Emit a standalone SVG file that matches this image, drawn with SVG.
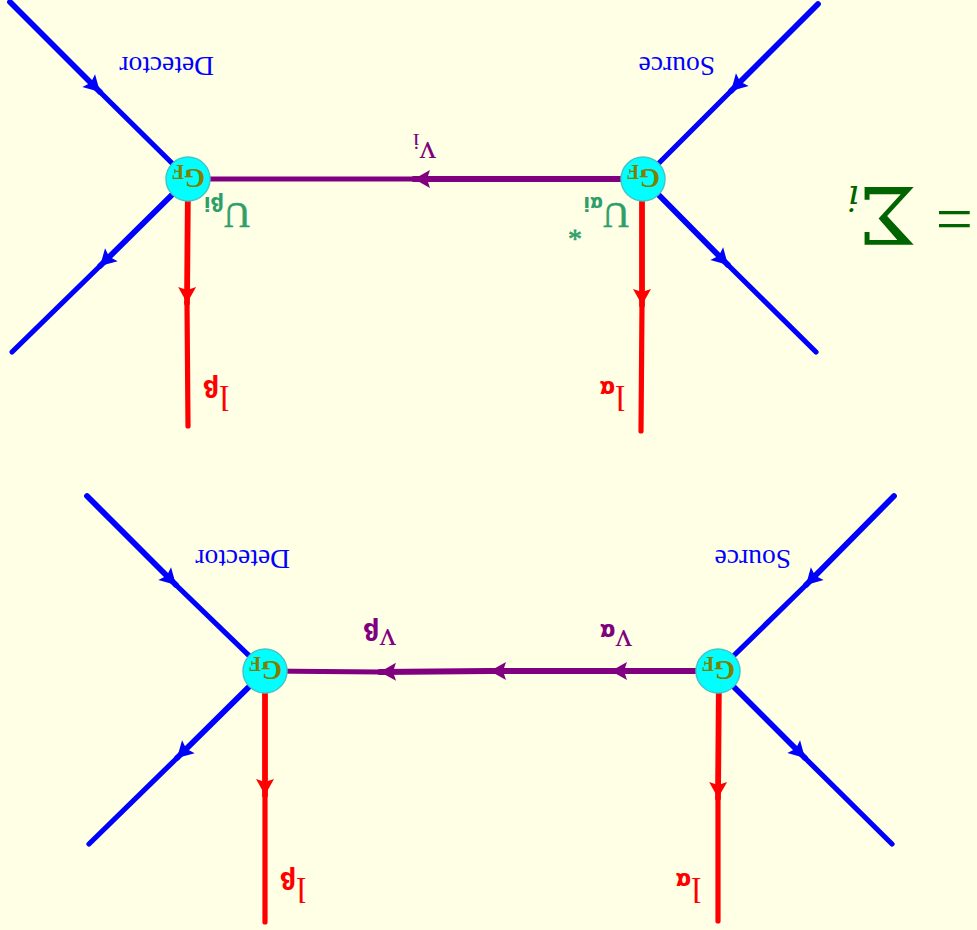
<svg xmlns="http://www.w3.org/2000/svg" width="977" height="930" viewBox="0 0 977 930">
<style>
text{font-family:"Liberation Serif","Times New Roman",serif}
.sub{font-family:"DejaVu Sans",sans-serif;font-weight:bold;font-size:23px}
.c{fill:none;stroke-linecap:round}
.t{stroke-width:5.8;marker-end:url(#a)}
.n{stroke-width:5.2}
.b{stroke:#0000ff}
.r{stroke:#ff0000}
.p{stroke:#800080}
.v{fill:#00ffff;stroke:#40c8c8;stroke-width:1.5}
.gf{fill:#808000;font-weight:bold;font-size:27px}
.gf tspan{font-size:20px}
.src{fill:#0000ff;font-size:27.5px}
.lr{fill:#ff0000;font-size:35px}
.lp{fill:#800080;font-size:33px}
.u{fill:#2e9e6a;font-size:36px;stroke:#2e9e6a;stroke-width:.6}
.u .sub{font-size:19px;stroke:none}
.s{fill:#006400}
</style>
<defs>
<marker id="a" markerUnits="userSpaceOnUse" markerWidth="20" markerHeight="20" refX="17" refY="10" orient="auto" overflow="visible">
<path d="M17 10L1 1L4 10L1 19Z" fill="context-stroke"/>
</marker>
</defs>
<rect width="977" height="930" fill="#ffffe6"/>
<g id="connectors">
<path class="c b t" d="M818 4L731 91"/><path class="c b n" d="M731 91L643 179"/>
<path class="c b t" d="M643 179L728 265"/><path class="c b n" d="M728 265L816 352"/>
<path class="c b t" d="M10 2L100 92"/><path class="c b n" d="M100 92L188 179"/>
<path class="c b t" d="M188 179L100 266"/><path class="c b n" d="M100 266L12 352"/>
<path class="c r t" d="M642 179L642 305"/><path class="c r n" d="M642 305L641 431"/>
<path class="c r t" d="M188 179L187 303"/><path class="c r n" d="M187 303L188 426"/>
<path class="c p t" d="M643 179L414 179"/><path class="c p n" d="M414 179L188 179"/>
<path class="c b t" d="M894 496L806 585"/><path class="c b n" d="M806 585L718 671"/>
<path class="c b t" d="M718 671L805 758"/><path class="c b n" d="M805 758L892 844"/>
<path class="c b t" d="M87 496L176 585"/><path class="c b n" d="M176 585L265 671"/>
<path class="c b t" d="M265 671L177 758"/><path class="c b n" d="M177 758L89 844"/>
<path class="c r t" d="M719 671L718 798"/><path class="c r n" d="M718 798L718 921"/>
<path class="c r t" d="M265 671L265 795"/><path class="c r n" d="M265 795L265 922"/>
<path class="c p t" d="M718 671L611 671"/><path class="c p t" d="M611 671L490 671"/>
<path class="c p t" d="M490 671L380 672"/><path class="c p n" d="M380 672L265 671"/>
</g>
<g id="source-1"><text class="src" transform="translate(715,57) rotate(180)">Source</text></g>
<g id="detector-1"><text class="src" transform="translate(214,57) rotate(180)">Detector</text></g>
<g id="source-2"><text class="src" transform="translate(791,550) rotate(180)">Source</text></g>
<g id="detector-2"><text class="src" transform="translate(290,550) rotate(180)">Detector</text></g>
<g id="vertex-1"><circle class="v" cx="643" cy="179" r="22"/><text class="gf" transform="translate(660,169) rotate(180)">G<tspan dy="4">F</tspan></text></g>
<g id="vertex-2"><circle class="v" cx="188" cy="179" r="22"/><text class="gf" transform="translate(205,169) rotate(180)">G<tspan dy="4">F</tspan></text></g>
<g id="vertex-3"><circle class="v" cx="718" cy="671" r="22"/><text class="gf" transform="translate(735,661) rotate(180)">G<tspan dy="4">F</tspan></text></g>
<g id="vertex-4"><circle class="v" cx="265" cy="671" r="22"/><text class="gf" transform="translate(282,661) rotate(180)">G<tspan dy="4">F</tspan></text></g>
<g id="label-nu-i"><text class="lp" transform="translate(436,142) rotate(180)">v<tspan dy="8" font-size="24">i</tspan></text></g>
<g id="label-nu-a"><text class="lp" transform="translate(632,630) rotate(180)">v<tspan class="sub" dy="6">α</tspan></text></g>
<g id="label-nu-b"><text class="lp" transform="translate(396,629) rotate(180)">v<tspan class="sub" dy="6">β</tspan></text></g>
<g id="label-l-a-1"><text class="lr" transform="translate(625,386) rotate(180)">l<tspan class="sub" dy="5">α</tspan></text></g>
<g id="label-l-b-1"><text class="lr" transform="translate(229,386) rotate(180)">l<tspan class="sub" dy="6">β</tspan></text></g>
<g id="label-l-a-2"><text class="lr" transform="translate(701,878) rotate(180)">l<tspan class="sub" dy="5">α</tspan></text></g>
<g id="label-l-b-2"><text class="lr" transform="translate(306,878) rotate(180)">l<tspan class="sub" dy="6">β</tspan></text></g>
<g id="label-u-a"><text class="u" transform="translate(629,203) rotate(180)">U<tspan class="sub" dy="6">αi</tspan></text><text class="u" style="font-size:28px" transform="translate(582,222) rotate(180)">*</text></g>
<g id="label-u-b"><text class="u" transform="translate(250,203) rotate(180)">U<tspan class="sub" dy="6">βi</tspan></text></g>
<g id="sum"><text class="s" font-size="78" style="font-family:'DejaVu Serif',serif" transform="translate(917,187) rotate(180) scale(1.05,1)">Σ</text><text class="s" font-size="36" font-style="italic" style="font-family:'DejaVu Serif',serif" transform="translate(859,186) rotate(180)">i</text><text class="s" font-size="66" transform="translate(973,197) rotate(180)">=</text></g>
</svg>
